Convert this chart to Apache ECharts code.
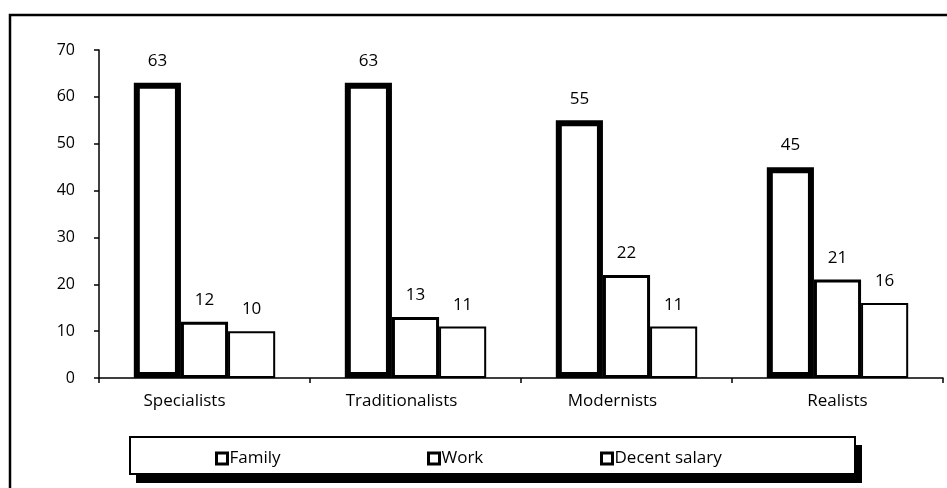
<!DOCTYPE html>
<html>
<head>
<meta charset="utf-8">
<title></title>
<script type="text/javascript" src="https://cdn.jsdelivr.net/npm/echarts@6/dist/echarts.min.js"></script>
<style>
body { margin: 0; background: #fff; }
</style>
</head>
<body>

<div id="main" style="width: 947px;height:488px;"></div>

<script type="text/javascript">

let CATEGORIES = ['Specialists', 'Traditionalists', 'Modernists', 'Realists'];
let FAMILY = [63, 63, 55, 45];
let WORK = [12, 13, 22, 21];
let SALARY = [10, 11, 11, 16];
let Y_TICKS = { min: 0, max: 70, interval: 10 };

let FONT = 'Open Sans';

function barSeries(name, data, border){
	return {
		name: name,
		type: 'bar',
		data: data,
		barGap: 0,
		barCategoryGap: '33%',
		itemStyle: { color: '#fff', borderColor: '#000', borderWidth: border },
		label: {
			show: true,
			position: 'top',
			distance: 13,
			color: '#000',
			fontFamily: FONT,
			fontSize: 17
		}
	};
}

// one legend per item so each can sit where it sits in the picture
function legendAt(name, left){
	return {
		data: [name],
		left: left,
		top: 450,
		itemWidth: 11,
		itemHeight: 11,
		itemGap: 0,
		icon: 'rect',
		itemStyle: { color: '#fff', borderColor: '#000', borderWidth: 3 },
		textStyle: { color: '#000', fontFamily: FONT, fontSize: 17, padding: [0, 0, 0, -3] },
		padding: 0
	};
}

// category labels sit a little left of the group centre, except the last
let labelRich = {
	c0: { fontFamily: FONT, fontSize: 17, color: '#000', padding: [0, 40, 0, 0] },
	c1: { fontFamily: FONT, fontSize: 17, color: '#000', padding: [0, 28, 0, 0] },
	c2: { fontFamily: FONT, fontSize: 17, color: '#000', padding: [0, 28, 0, 0] },
	c3: { fontFamily: FONT, fontSize: 17, color: '#000', padding: [0, 0, 0, 0] }
};

var myChart = echarts.init(document.getElementById('main'));

var option = {
	animation: false,
	backgroundColor: '#fff',
	textStyle: { fontFamily: FONT },
	grid: { left: 99, right: 4, top: 50, bottom: 110 },
	graphic: [
		{ type: 'rect', z: 0, shape: { x: 10, y: 15, width: 960, height: 500 },
			style: { fill: 'none', stroke: '#000', lineWidth: 2.5 } },
		{ type: 'rect', z: 0, shape: { x: 136, y: 445, width: 726, height: 38 },
			style: { fill: '#000' } },
		{ type: 'rect', z: 1, shape: { x: 130, y: 437, width: 725, height: 37 },
			style: { fill: '#fff', stroke: '#000', lineWidth: 2 } }
	],
	legend: [
		legendAt('Family', 215),
		legendAt('Work', 427),
		legendAt('Decent salary', 600)
	],
	xAxis: {
		type: 'category',
		data: CATEGORIES,
		axisLine: { lineStyle: { color: '#000', width: 1.5 } },
		axisTick: { show: true, length: 5, lineStyle: { color: '#000', width: 1.5 } },
		axisLabel: {
			color: '#000', fontFamily: FONT, fontSize: 17, margin: 15,
			formatter: (val, i) => '{c' + i + '|' + val + '}',
			rich: labelRich
		}
	},
	yAxis: {
		type: 'value',
		min: Y_TICKS.min,
		max: Y_TICKS.max,
		interval: Y_TICKS.interval,
		splitLine: { show: false },
		axisLine: { show: true, lineStyle: { color: '#000', width: 1.5 } },
		axisTick: { show: true, length: 5, lineStyle: { color: '#000', width: 1.5 } },
		axisLabel: { color: '#000', fontFamily: FONT, fontSize: 16, margin: 24 }
	},
	series: [
		barSeries('Family', FAMILY, 6),
		barSeries('Work', WORK, 3),
		barSeries('Decent salary', SALARY, 2)
	]
};

myChart.setOption(option);

</script>

</body>
</html>
